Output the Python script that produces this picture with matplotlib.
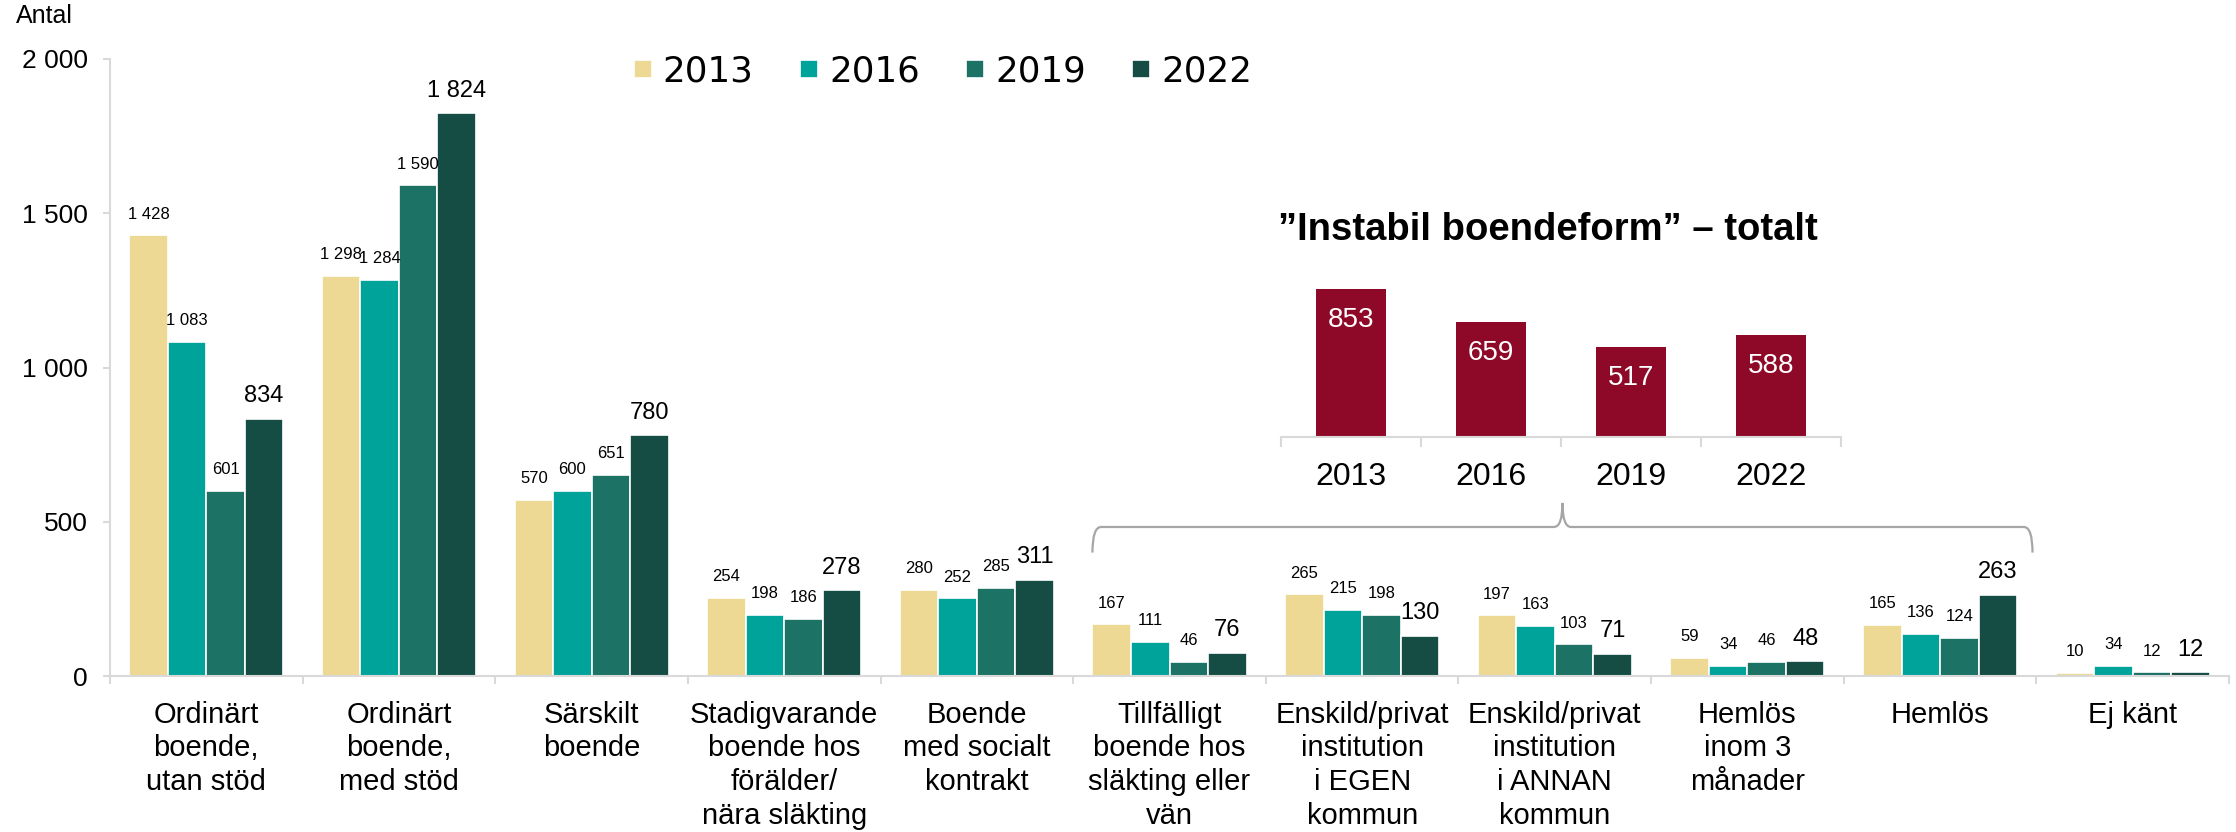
import numpy as np
import matplotlib
matplotlib.use("Agg")
import matplotlib.pyplot as plt
from matplotlib.path import Path
from matplotlib.patches import PathPatch

plt.rcParams['font.family'] = ['Liberation Sans', 'DejaVu Sans']

# data
categories = ["Ordinärt\nboende,\nutan stöd", "Ordinärt\nboende,\nmed stöd", "Särskilt\nboende",
              "Stadigvarande\nboende hos\nförälder/\nnära släkting", "Boende\nmed socialt\nkontrakt",
              "Tillfälligt\nboende hos\nsläkting eller\nvän", "Enskild/privat\ninstitution\ni EGEN\nkommun",
              "Enskild/privat\ninstitution\ni ANNAN\nkommun", "Hemlös\ninom 3\nmånader", "Hemlös", "Ej känt"]
years = ["2013", "2016", "2019", "2022"]
v2013 = [1428, 1298, 570, 254, 280, 167, 265, 197, 59, 165, 10]
v2016 = [1083, 1284, 600, 198, 252, 111, 215, 163, 34, 136, 34]
v2019 = [601, 1590, 651, 186, 285, 46, 198, 103, 46, 124, 12]
v2022 = [834, 1824, 780, 278, 311, 76, 130, 71, 48, 263, 12]
yticks = [0, 500, 1000, 1500, 2000]

inset_years = ["2013", "2016", "2019", "2022"]
inset_totals = [853, 659, 517, 588]

colors = ["#EDD894", "#00A39A", "#1C7265", "#154D45"]
red = "#8E0927"
grid_grey = "#D9D9D9"


def fmt(v):
    return f"{v:,}".replace(",", " ")


fig = plt.figure(figsize=(22.36, 8.32), dpi=100)
ax = fig.add_axes([110 / 2236, 156 / 832, 2119 / 2236, 617 / 832])

x = np.arange(len(categories))
w = 0.2
series = [v2013, v2016, v2019, v2022]
for k, vals in enumerate(series):
    pos = x + (k - 1.5) * w
    bars = ax.bar(pos, vals, width=w, color=colors[k], edgecolor="white", linewidth=1.2,
                  label=years[k])
    for p, v in zip(pos, vals):
        ax.annotate(fmt(v), (p, v), xytext=(0, 12), textcoords="offset points",
                    ha="center", va="baseline", fontsize=17 if k == 3 else 12)

ax.set_xlim(-0.5, len(categories) - 0.5)
ax.set_ylim(0, 2000)
ax.set_yticks(yticks)
ax.set_yticklabels([fmt(t) for t in yticks], fontsize=19)
ax.set_xticks(x)
ax.set_xticklabels(categories, fontsize=21, linespacing=1.25)
ax.set_xticks(np.arange(-0.5, len(categories)), minor=True)
ax.tick_params(axis="x", which="major", length=0, pad=18)
ax.tick_params(axis="x", which="minor", length=6, width=1.5, color=grid_grey)
ax.tick_params(axis="y", length=5, width=1.5, color=grid_grey, pad=11)
for s in ["top", "right"]:
    ax.spines[s].set_visible(False)
ax.spines["left"].set_color(grid_grey)
ax.spines["bottom"].set_color(grid_grey)
ax.spines["left"].set_linewidth(1.5)
ax.spines["bottom"].set_linewidth(1.5)

# brace over the "instabil" categories
xl, xm, xr = 4.6, 7.04, 9.48
yb, yl, yt = 400, 483, 561
dx = 0.045
verts = [(xl, yb), (xl, yl), (xl + dx, yl), (xm - dx, yl), (xm, yl), (xm, yt),
         (xm, yl), (xm + dx, yl), (xr - dx, yl), (xr, yl), (xr, yb)]
codes = [Path.MOVETO, Path.CURVE3, Path.CURVE3, Path.LINETO, Path.CURVE3, Path.CURVE3,
         Path.CURVE3, Path.CURVE3, Path.LINETO, Path.CURVE3, Path.CURVE3]
ax.add_patch(PathPatch(Path(verts, codes), facecolor="none", edgecolor="#A6A6A6", lw=1.6,
                       clip_on=False))

fig.text(16 / 2236, 1 - 4 / 832, "Antal", fontsize=18, va="top", ha="left")

leg = fig.legend(loc="center", bbox_to_anchor=(943 / 2236, 1 - 72 / 832), ncol=4, frameon=False,
                 prop={"family": "DejaVu Sans", "size": 25.7}, handlelength=0.5, handleheight=0.4,
                 handletextpad=0.31, columnspacing=1.3)

# inset: total "instabil boendeform"
ax2 = fig.add_axes([1281 / 2236, (832 - 437) / 832, 560 / 2236, 174 / 832])
xi = np.arange(len(inset_years))
ax2.bar(xi, inset_totals, width=0.5, color=red)
for p, v in zip(xi, inset_totals):
    ax2.annotate(str(v), (p, v), xytext=(0, -13), textcoords="offset points",
                 ha="center", va="top", fontsize=20, color="white")
ax2.set_xlim(-0.5, 3.5)
ax2.set_ylim(0, 1000)
ax2.set_yticks([])
ax2.set_xticks(xi)
ax2.set_xticklabels(inset_years, fontsize=23)
ax2.set_xticks(np.arange(-0.5, 4), minor=True)
ax2.tick_params(axis="x", which="major", length=0, pad=18)
ax2.tick_params(axis="x", which="minor", length=7, width=1.5, color=grid_grey)
for s in ["top", "right", "left"]:
    ax2.spines[s].set_visible(False)
ax2.spines["bottom"].set_color(grid_grey)
ax2.spines["bottom"].set_linewidth(1.5)
ax2.patch.set_alpha(0)

fig.text(1548 / 2236, 1 - 230 / 832, "\u201dInstabil boendeform\u201d \u2013 totalt", fontsize=27.5,
         fontweight="bold", ha="center", va="center")

fig.savefig("out.png", dpi=100)
